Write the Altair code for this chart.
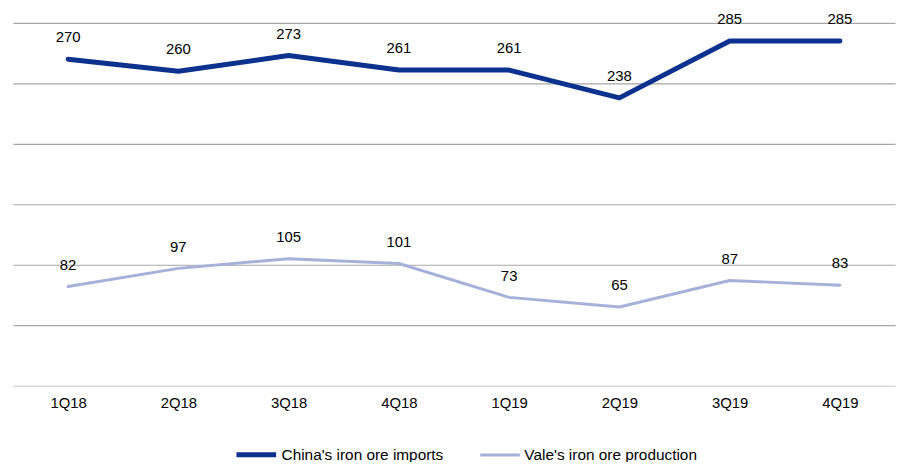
import altair as alt
import pandas as pd

quarters = ["1Q18", "2Q18", "3Q18", "4Q18", "1Q19", "2Q19", "3Q19", "4Q19"]
china_imports = [270, 260, 273, 261, 261, 238, 285, 285]
vale_production = [82, 97, 105, 101, 73, 65, 87, 83]
series_names = ["China's iron ore imports", "Vale's iron ore production"]
series_colors = ["#0C318F", "#A6B1DA"]

rows = []
for q, v in zip(quarters, china_imports):
    rows.append({"quarter": q, "value": v, "series": series_names[0]})
for q, v in zip(quarters, vale_production):
    rows.append({"quarter": q, "value": v, "series": series_names[1]})
df = pd.DataFrame(rows)

FONT = "Liberation Sans"

x = alt.X("quarter:N", sort=quarters, title=None,
          scale=alt.Scale(type="point", padding=0.5),
          axis=alt.Axis(labelAngle=0, ticks=False, domainColor="#D9D9D9",
                        domainWidth=1.5, labelPadding=10, labelFontSize=15,
                        labelColor="#000000", labelFont=FONT, grid=False))
y = alt.Y("value:Q", title=None,
          scale=alt.Scale(domain=[0, 300], nice=False, zero=True),
          axis=alt.Axis(labels=False, ticks=False, domain=False,
                        values=[50, 100, 150, 200, 250, 300],
                        gridColor="#A6A6A6", gridWidth=1.2))
color = alt.Color("series:N",
                  scale=alt.Scale(domain=series_names, range=series_colors),
                  legend=alt.Legend(title=None, orient="none", direction="horizontal",
                                    legendX=223, legendY=413, padding=0,
                                    symbolType="stroke", symbolSize=1600,
                                    symbolStrokeWidth=4, labelFontSize=15.5,
                                    labelFont=FONT, labelColor="#000000",
                                    labelLimit=400,
                                    labelOffset=3, columnPadding=30))

lines = alt.Chart(df).mark_line(strokeCap="round", strokeJoin="round").encode(
    x=x, y=y, color=color,
    strokeWidth=alt.StrokeWidth("series:N",
                                scale=alt.Scale(domain=series_names, range=[5, 3]),
                                legend=None),
)

labels = alt.Chart(df).mark_text(dy=-22, fontSize=15, font=FONT, color="#000000").encode(
    x=x, y=y, text="value:Q"
)

chart = alt.layer(lines, labels).properties(
    width=890, height=366,
    autosize=alt.AutoSizeParams(type="none"),
    padding={"left": 5, "top": 13, "right": 6, "bottom": 75},
).configure_view(stroke=None)

chart.save("out.html", embed_options={"renderer": "svg", "actions": False})
